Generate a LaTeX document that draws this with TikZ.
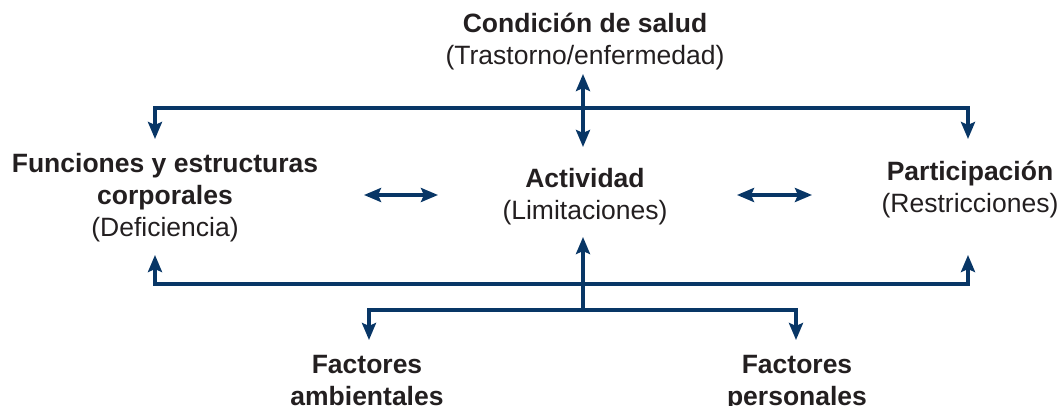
\documentclass[tikz,border=0pt]{standalone}
\usepackage{fontspec}
\setmainfont{Liberation Sans}
\usepackage{tikz}
\usetikzlibrary{arrows.meta, positioning}

\definecolor{icfblue}{RGB}{8,54,102}
\definecolor{icftext}{RGB}{35,31,32}

\begin{document}
\begin{tikzpicture}[x=1pt, y=-1pt,
    link/.style={icfblue, line width=3.5pt, line join=miter},
    head/.tip={Stealth[length=17pt, width=14pt, inset=3pt]},
    label/.style={align=center, inner sep=0pt, text=icftext,
        font=\fontsize{26.5}{32}\selectfont}]
    \useasboundingbox (0,0) rectangle (1061,406);

    % Components
    \node[label] (salud) at (585,42) {\textbf{Condición de salud}\\(Trastorno/enfermedad)};
    \node[label] (funciones) at (165,198) {\textbf{Funciones y estructuras}\\\textbf{corporales}\\(Deficiencia)};
    \node[label] (actividad) at (585,197) {\textbf{Actividad}\\(Limitaciones)};
    \node[label] (participacion) at (970,190) {\textbf{Participación}\\(Restricciones)};
    \node[label, anchor=north] (ambientales) at (367,355) {\textbf{Factores}\\\textbf{ambientales}};
    \node[label, anchor=north] (personales) at (797,355) {\textbf{Factores}\\\textbf{personales}};

    % Joints and arrow ends
    \coordinate (topbus) at (583,108);
    \coordinate (lowbus) at (583,284);
    \coordinate (branch) at (583,310);
    \coordinate (s1) at (583,74);
    \coordinate (s2) at (583,147);
    \coordinate (f1) at (155,139);
    \coordinate (p1) at (968,139);
    \coordinate (f2) at (155,255);
    \coordinate (p2) at (968,255);
    \coordinate (a1) at (583,237);
    \coordinate (e1) at (369,340);
    \coordinate (e2) at (796,340);

    % Upper links
    \draw[link, head-head] (s1) -- (s2);
    \draw[link, head-head] (f1) |- (topbus) -| (p1);

    % Lower links
    \draw[link, head-head] (f2) |- (lowbus) -| (p2);
    \draw[link, -head] (branch) -- (a1);
    \draw[link, head-head] (e1) |- (branch) -| (e2);

    % Side arrows
    \draw[link, head-head] (364,195) -- (438,195);
    \draw[link, head-head] (737,195) -- (812,195);
\end{tikzpicture}
\end{document}
